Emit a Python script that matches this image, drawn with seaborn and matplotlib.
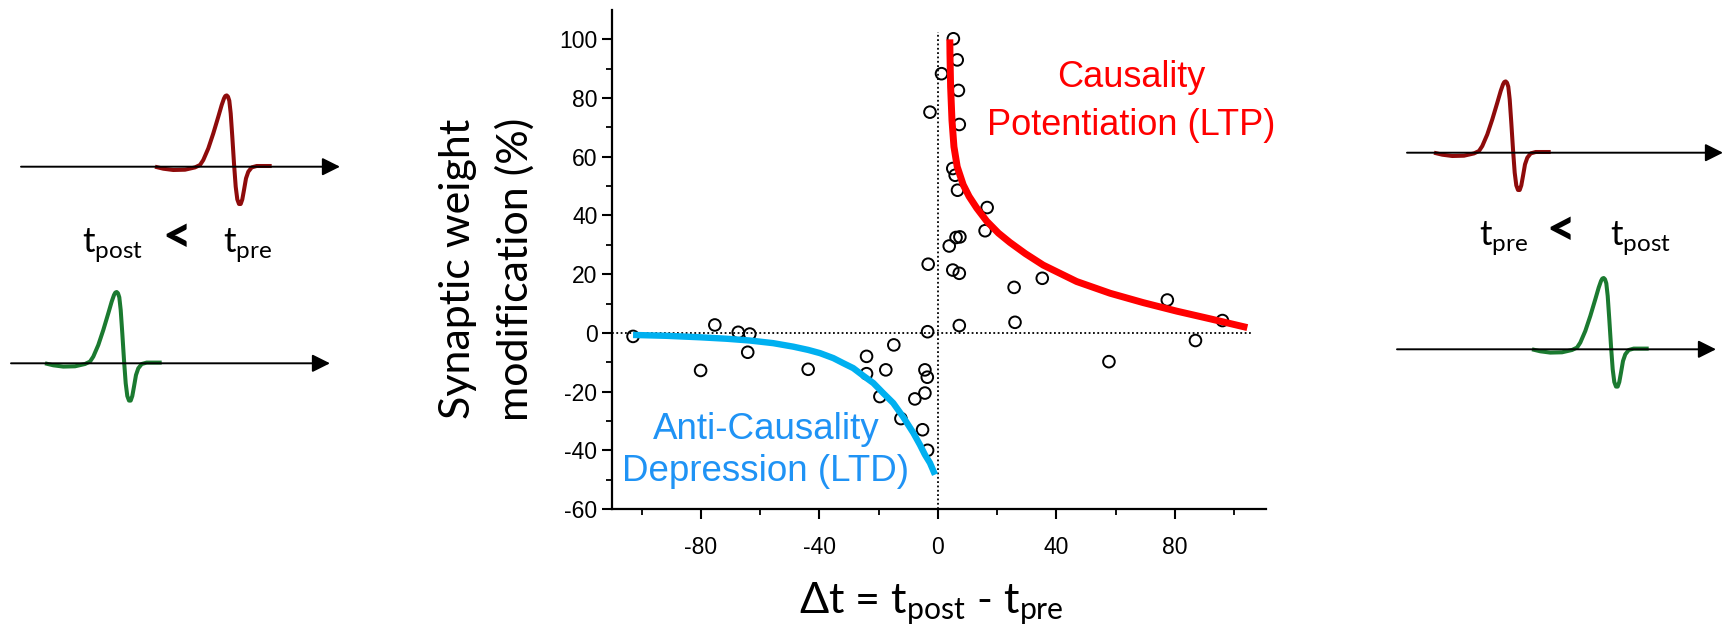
import numpy as np
import pandas as pd
import matplotlib.pyplot as plt
import seaborn as sns

sns.set_style("ticks")
plt.rcParams["font.family"] = ["Liberation Sans", "DejaVu Sans"]
plt.rcParams["axes.unicode_minus"] = False
for k in ["text.color", "axes.labelcolor", "xtick.color", "ytick.color", "axes.edgecolor"]:
    plt.rcParams[k] = "black"

# measured points: dt = t_post - t_pre, dw = weight change (%)
dt_pts = [5.2, 6.5, 1.2, 6.9, -2.7, 7.2, 5.0, 5.8, 6.6, 16.6, 15.9, 7.4, 6.1, 3.8,
          -3.3, 5.0, 7.2, 25.7, 26.0, 7.2, -3.5, 35.2, 57.7, 77.4, 86.9, 96.0,
          -102.9, -75.3, -67.4, -63.5, -64.2, -80.1, -43.8, -24.1, -24.1, -14.9,
          -17.6, -19.6, -12.5, -7.8, -4.4, -3.6, -4.4, -5.2, -3.5]
dw_pts = [100.2, 93.0, 88.3, 82.6, 75.2, 71.0, 56.0, 53.7, 48.6, 42.7, 34.8, 32.7, 32.5, 29.6,
          23.4, 21.4, 20.3, 15.5, 3.6, 2.5, 0.4, 18.6, -9.8, 11.2, -2.6, 4.2,
          -1.2, 2.7, 0.2, -0.4, -6.6, -12.8, -12.4, -8.0, -13.9, -4.1,
          -12.6, -21.7, -29.2, -22.5, -12.6, -15.1, -20.5, -33.0, -40.0]

# LTP / LTD curves
ltp_t = [4.0, 4.05, 4.27, 4.73, 5.4, 6.5, 8.5, 10.5, 13.1, 16.5, 20.4, 24.3, 29.5,
         35.5, 46.8, 58.1, 69.3, 80.6, 91.8, 104.4]
ltp_w = [100, 95.1, 83.8, 72.4, 63.4, 56.6, 50.5, 46.5, 42.5, 38.0, 34.0, 30.8, 27.0,
         23.1, 17.5, 13.5, 10.3, 7.4, 4.8, 1.8]
ltd_t = [-102.9, -91.6, -80.3, -71.3, -63.5, -55.6, -48.8, -43.8, -39.8, -35.3, -32.0,
         -28.6, -25.2, -21.8, -18.5, -15.1, -11.7, -8.3, -6.1, -4.4, -2.7, -1.0]
ltd_w = [-0.7, -1.0, -1.5, -2.0, -2.6, -3.5, -4.7, -5.8, -6.9, -8.6, -10.3,
         -12.0, -14.6, -17.1, -20.5, -23.9, -28.7, -34.1, -38.1, -41.5, -44.3, -48.3]

x_major = [-80, -40, 0, 40, 80]
x_minor = [-100, -60, -20, 20, 60, 100]
y_major = [-60, -40, -20, 0, 20, 40, 60, 80, 100]
y_minor = [-50, -30, -10, 10, 30, 50, 70, 90]

# spike waveform sketch (pixels after onset, pixels above baseline)
spike_dx = [0, 8.3, 18.3, 30, 40, 45, 48.3, 53.3, 58.3, 63.3, 66.7, 69, 70.3, 71.7, 73,
            74.3, 75.7, 77.3, 79, 80.7, 82.3, 84, 85.7, 87.3, 89, 91, 93.3, 96.7, 101.7, 116.7]
spike_dy = [0, -2, -3.3, -3, -0.7, 1.7, 6.7, 18.3, 33.3, 50, 61.7, 68.3, 70.7, 71.3, 70,
            66, 53.3, 30, 3.3, -20, -32.7, -37.3, -37.3, -32.7, -23.3, -11.7, -5, -0.7, 0.7, 0.7]

RED = "#FF0000"
LTD_LINE = "#00B0F0"
LTD_TEXT = "#1F93F5"
DARK_RED = "#8E0B0B"
GREEN = "#1B7A30"
CAL = ["Lato", "DejaVu Sans"]

W, H = 1724, 632
fig = plt.figure(figsize=(W / 100, H / 100), dpi=100)

# overlay in pixel coordinates for the spike sketches and big labels
ov = fig.add_axes([0, 0, 1, 1], zorder=0)
ov.set_xlim(0, W)
ov.set_ylim(H, 0)
ov.axis("off")

sx = np.array(spike_dx)
sy = np.array(spike_dy)

def train(x0, x1, y, onset, color):
    ov.annotate("", xy=(x1, y), xytext=(x0, y),
                arrowprops=dict(arrowstyle="-|>,head_length=0.4,head_width=0.2",
                                color="black", lw=1.4, mutation_scale=27,
                                shrinkA=0, shrinkB=0))
    ov.plot(onset + sx, y - sy, color=color, lw=2.9, solid_capstyle="butt")

train(21, 340, 166.7, 155, DARK_RED)
train(11, 330, 363.3, 45, GREEN)
train(1407, 1723, 152.7, 1434, DARK_RED)
train(1397, 1716, 349.3, 1532, GREEN)

ov.text(82, 251.7, r"t$_\mathregular{post}$", family=CAL, fontsize=25, va="baseline", ha="left")
ov.text(177, 251.7, "<", family=CAL, fontsize=36, fontweight="black", va="baseline", ha="center")
ov.text(223, 251.7, r"t$_\mathregular{pre}$", family=CAL, fontsize=25, va="baseline", ha="left")
ov.text(1479, 245, r"t$_\mathregular{pre}$", family=CAL, fontsize=25, va="baseline", ha="left")
ov.text(1561, 245, "<", family=CAL, fontsize=36, fontweight="black", va="baseline", ha="center")
ov.text(1610, 245, r"t$_\mathregular{post}$", family=CAL, fontsize=25, va="baseline", ha="left")

# axis titles
ov.text(931.5, 613.3, r"Δt = t$_\mathregular{post}$ - t$_\mathregular{pre}$", family=CAL,
        fontsize=31, ha="center", va="baseline")
ov.text(470, 269, "Synaptic weight", family=CAL, fontsize=31, rotation=90,
        rotation_mode="anchor", ha="center", va="baseline")
ov.text(528, 269, "modification (%)", family=CAL, fontsize=31, rotation=90,
        rotation_mode="anchor", ha="center", va="baseline")

# curve annotations
ov.text(1131, 86.7, "Causality", color=RED, fontsize=26, ha="center", va="baseline")
ov.text(1131, 135, "Potentiation (LTP)", color=RED, fontsize=26, ha="center", va="baseline")
ov.text(766, 439.3, "Anti-Causality", color=LTD_TEXT, fontsize=26.5, ha="center", va="baseline")
ov.text(766, 481, "Depression (LTD)", color=LTD_TEXT, fontsize=26.5, ha="center", va="baseline")

# main STDP plot
ax = fig.add_axes([612 / W, (H - 509) / H, (1266 - 612) / W, (509 - 10) / H], zorder=1)
ax.patch.set_alpha(0)

pts = pd.DataFrame({"dt": dt_pts, "dw": dw_pts})
ax.axhline(0, xmin=0, xmax=0.98, color="black", lw=1.3, ls=(0, (1, 1.4)), zorder=1)
ax.axvline(0, ymin=0, ymax=0.955, color="black", lw=1.3, ls=(0, (1, 1.4)), zorder=1)
sns.scatterplot(data=pts, x="dt", y="dw", ax=ax, s=70, facecolor="none",
                edgecolor="black", linewidth=1.4, zorder=2)
sns.lineplot(x=ltp_t, y=ltp_w, ax=ax, sort=False, estimator=None, color=RED,
             lw=5, solid_capstyle="butt", solid_joinstyle="round", zorder=3)
sns.lineplot(x=ltd_t, y=ltd_w, ax=ax, sort=False, estimator=None, color=LTD_LINE,
             lw=4.6, solid_capstyle="butt", solid_joinstyle="round", zorder=3)

ax.set_xlim(-110, 110.7)
ax.set_ylim(-60, 110)
ax.set_xticks(x_major)
ax.set_xticks(x_minor, minor=True)
ax.set_yticks(y_major)
ax.set_yticks(y_minor, minor=True)
ax.set_xlabel("")
ax.set_ylabel("")
sns.despine(ax=ax)
for sp in ["left", "bottom"]:
    ax.spines[sp].set_linewidth(1.6)
ax.tick_params(which="major", length=7.5, width=1.5, labelsize=16.5, direction="out")
ax.tick_params(which="minor", length=4.5, width=1.3, direction="out")
ax.tick_params(axis="x", which="major", pad=12)
ax.tick_params(axis="y", which="major", pad=3)

fig.savefig("out.png", dpi=100)
